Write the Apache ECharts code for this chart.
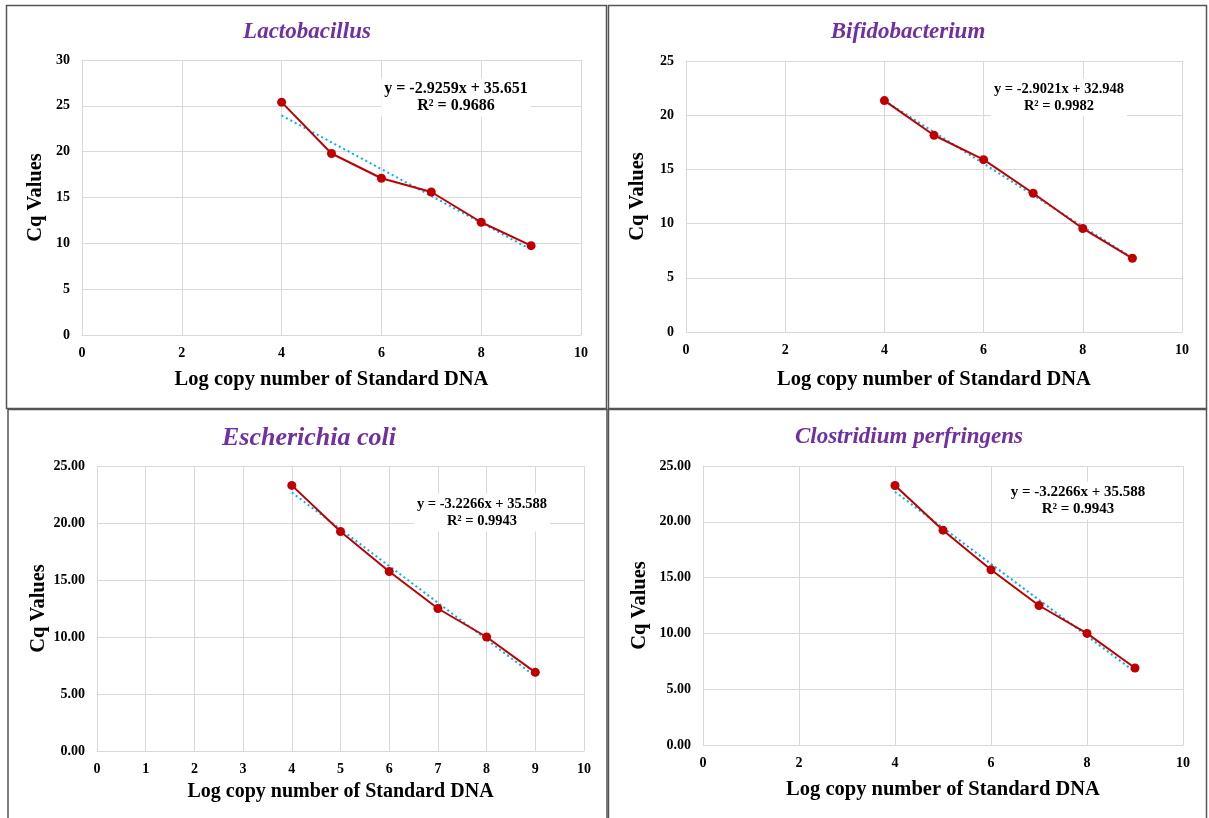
<!DOCTYPE html>
<html>
<head>
<meta charset="utf-8">
<script src="https://cdn.jsdelivr.net/npm/echarts@6/dist/echarts.min.js"></script>
<style>
html,body{margin:0;padding:0;background:#fff;}
#chart{width:1209px;height:818px;}
</style>
</head>
<body>
<div id="chart"></div>
<script>
// ---- Data ----
const titles = ['Lactobacillus', 'Bifidobacterium', 'Escherichia coli', 'Clostridium perfringens'];
const logCopies = [4, 5, 6, 7, 8, 9];
const cqLactobacillus = [25.4, 19.8, 17.1, 15.6, 12.3, 9.75];
const cqBifidobacterium = [21.35, 18.15, 15.9, 12.8, 9.55, 6.8];
const cqEcoli = [23.3, 19.25, 15.75, 12.5, 10.0, 6.9];
const cqClostridium = [23.25, 19.25, 15.7, 12.5, 10.0, 6.9];
const slopes = [-2.9259, -2.9021, -3.2266, -3.2266];
const intercepts = [35.651, 32.948, 35.588, 35.588];
const r2Values = ['0.9686', '0.9982', '0.9943', '0.9943'];
const yMax = [30, 25, 25, 25];
const yInterval = [5, 5, 5, 5];
const xInterval = [2, 2, 1, 2];

const allCq = [cqLactobacillus, cqBifidobacterium, cqEcoli, cqClostridium];

// ---- Layout ----
const FONT = '"Liberation Serif", "Times New Roman", serif';
const grids = [
  {left: 82, top: 60, width: 499, height: 275},
  {left: 686, top: 61, width: 496, height: 271},
  {left: 97, top: 466, width: 487, height: 285},
  {left: 703, top: 466, width: 480, height: 279}
];
const titlePos = [[302, 16], [903, 16], [304, 420], [904, 421]];
const titleSize = [23, 23, 26, 23];
const yNameGap = [36, 38, 47, 53];
const xNameGap = [34, 37, 31, 34];
const xNameSize = [20.5, 20.5, 20, 20.5];
const eqPos = [[456, 89], [1059, 89], [482, 504], [1078, 492]];
const eqSize = [16, 14.5, 14.5, 15];
const decimals = [0, 0, 2, 2];

const chart = echarts.init(document.getElementById('chart'));

const gridLine = {show: true, lineStyle: {color: '#D9D9D9', width: 1}};
const axisLine = {show: true, lineStyle: {color: '#D9D9D9', width: 1}};

const option = {
  backgroundColor: '#fff',
  animation: false,
  title: titles.map((t, i) => ({
    text: t,
    left: titlePos[i][0],
    top: titlePos[i][1],
    textAlign: 'center',
    textStyle: {fontFamily: FONT, fontSize: titleSize[i], fontWeight: 'bold', fontStyle: 'italic', color: '#7030A0'}
  })),
  grid: grids.map(g => Object.assign({containLabel: false}, g)),
  xAxis: grids.map((g, i) => ({
    type: 'value', gridIndex: i, min: 0, max: 10, interval: xInterval[i],
    name: 'Log copy number of Standard DNA', nameLocation: 'middle', nameGap: xNameGap[i],
    nameTextStyle: {fontFamily: FONT, fontSize: xNameSize[i], fontWeight: 'bold', color: '#000'},
    axisLine: axisLine, axisTick: {show: false}, splitLine: gridLine,
    axisLabel: {fontFamily: FONT, fontSize: 14, fontWeight: 'bold', color: '#000', margin: 11}
  })),
  yAxis: grids.map((g, i) => ({
    type: 'value', gridIndex: i, min: 0, max: yMax[i], interval: yInterval[i],
    name: 'Cq Values', nameLocation: 'middle', nameGap: yNameGap[i],
    nameTextStyle: {fontFamily: FONT, fontSize: 20.5, fontWeight: 'bold', color: '#000'},
    axisLine: axisLine, axisTick: {show: false}, splitLine: gridLine,
    axisLabel: {fontFamily: FONT, fontSize: 14, fontWeight: 'bold', color: '#000', margin: 12,
      formatter: v => v.toFixed(decimals[i])}
  })),
  series: [],
  graphic: [
    {type: 'rect', shape: {x: 6.5, y: 5.5, width: 600, height: 403}, style: {fill: 'none', stroke: '#555', lineWidth: 1.5}, silent: true},
    {type: 'rect', shape: {x: 608.5, y: 5.5, width: 598, height: 403}, style: {fill: 'none', stroke: '#555', lineWidth: 1.5}, silent: true},
    {type: 'rect', shape: {x: 8, y: 409.5, width: 599, height: 412}, style: {fill: 'none', stroke: '#555', lineWidth: 1.5}, silent: true},
    {type: 'rect', shape: {x: 608.5, y: 409.5, width: 598, height: 412}, style: {fill: 'none', stroke: '#555', lineWidth: 1.5}, silent: true}
  ]
};

allCq.forEach((cq, i) => {
  const x0 = logCopies[0], x1 = logCopies[logCopies.length - 1];
  option.series.push({
    type: 'line', xAxisIndex: i, yAxisIndex: i, z: 2,
    data: [[x0, slopes[i] * x0 + intercepts[i]], [x1, slopes[i] * x1 + intercepts[i]]],
    showSymbol: false, symbol: 'none',
    lineStyle: {color: '#00B0F0', width: 2, type: [2, 3]}
  });
  option.series.push({
    type: 'line', xAxisIndex: i, yAxisIndex: i, z: 3,
    data: logCopies.map((x, k) => [x, cq[k]]),
    symbol: 'circle', symbolSize: 9,
    itemStyle: {color: '#C00000'},
    lineStyle: {color: '#C00000', width: 2}
  });
  const sign = intercepts[i] >= 0 ? '+' : '-';
  option.graphic.push({
    type: 'text', x: eqPos[i][0], y: eqPos[i][1] + 8.5, z: 100,
    style: {
      text: 'y = ' + slopes[i].toFixed(4) + 'x ' + sign + ' ' + Math.abs(intercepts[i]).toFixed(3) + '\nR² = ' + r2Values[i],
      fontFamily: FONT, fontSize: eqSize[i], fontWeight: 'bold', fill: '#000',
      align: 'center', verticalAlign: 'middle', lineHeight: 17,
      backgroundColor: '#fff', padding: [2, 3]
    },
    silent: true
  });
});

chart.setOption(option);
</script>
</body>
</html>
